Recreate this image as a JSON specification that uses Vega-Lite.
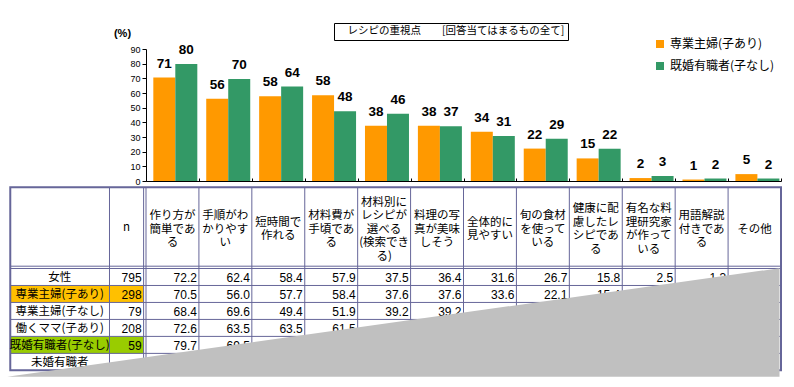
{
  "$schema": "https://vega.github.io/schema/vega-lite/v6.json",
  "padding": {"left": 7, "top": 22, "right": 0, "bottom": 0},
  "spacing": 0,
  "background": "white",
  "config": {"view": {"stroke": null}, "font": "Noto Sans CJK JP", "axis": {"grid": false}},
  "resolve": {"scale": {"x": "independent", "y": "independent"}},
  "datasets": {
    "bars": [
      {"item": "作り方が簡単である", "series": "専業主婦(子あり)", "value": 70.5},
      {"item": "作り方が簡単である", "series": "既婚有職者(子なし)", "value": 79.7},
      {"item": "手順がわかりやすい", "series": "専業主婦(子あり)", "value": 56.0},
      {"item": "手順がわかりやすい", "series": "既婚有職者(子なし)", "value": 69.5},
      {"item": "短時間で作れる", "series": "専業主婦(子あり)", "value": 57.7},
      {"item": "短時間で作れる", "series": "既婚有職者(子なし)", "value": 64.4},
      {"item": "材料費が手頃である", "series": "専業主婦(子あり)", "value": 58.4},
      {"item": "材料費が手頃である", "series": "既婚有職者(子なし)", "value": 47.5},
      {"item": "材料別にレシピが選べる(検索できる)", "series": "専業主婦(子あり)", "value": 37.6},
      {"item": "材料別にレシピが選べる(検索できる)", "series": "既婚有職者(子なし)", "value": 45.8},
      {"item": "料理の写真が美味しそう", "series": "専業主婦(子あり)", "value": 37.6},
      {"item": "料理の写真が美味しそう", "series": "既婚有職者(子なし)", "value": 37.3},
      {"item": "全体的に見やすい", "series": "専業主婦(子あり)", "value": 33.6},
      {"item": "全体的に見やすい", "series": "既婚有職者(子なし)", "value": 30.6},
      {"item": "旬の食材を使っている", "series": "専業主婦(子あり)", "value": 22.1},
      {"item": "旬の食材を使っている", "series": "既婚有職者(子なし)", "value": 28.8},
      {"item": "健康に配慮したレシピである", "series": "専業主婦(子あり)", "value": 15.4},
      {"item": "健康に配慮したレシピである", "series": "既婚有職者(子なし)", "value": 22.0},
      {"item": "有名な料理研究家が作っている", "series": "専業主婦(子あり)", "value": 2.0},
      {"item": "有名な料理研究家が作っている", "series": "既婚有職者(子なし)", "value": 3.4},
      {"item": "用語解説付きである", "series": "専業主婦(子あり)", "value": 1.0},
      {"item": "用語解説付きである", "series": "既婚有職者(子なし)", "value": 1.7},
      {"item": "その他", "series": "専業主婦(子あり)", "value": 4.7},
      {"item": "その他", "series": "既婚有職者(子なし)", "value": 1.7}
    ],
    "headers": [
      {"col": 1, "nl": 3, "label": "作り方が\n簡単であ\nる"},
      {"col": 2, "nl": 3, "label": "手順がわ\nかりやす\nい"},
      {"col": 3, "nl": 2, "label": "短時間で\n作れる"},
      {"col": 4, "nl": 3, "label": "材料費が\n手頃であ\nる"},
      {"col": 5, "nl": 5, "label": "材料別に\nレシピが\n選べる\n(検索でき\nる)"},
      {"col": 6, "nl": 3, "label": "料理の写\n真が美味\nしそう"},
      {"col": 7, "nl": 2, "label": "全体的に\n見やすい"},
      {"col": 8, "nl": 3, "label": "旬の食材\nを使って\nいる"},
      {"col": 9, "nl": 4, "label": "健康に配\n慮したレ\nシピであ\nる"},
      {"col": 10, "nl": 4, "label": "有名な料\n理研究家\nが作って\nいる"},
      {"col": 11, "nl": 3, "label": "用語解説\n付きであ\nる"},
      {"col": 12, "nl": 1, "label": "その他"}
    ],
    "rows": [
      {"R": 1, "label": "女性", "n": "795"},
      {"R": 2, "R0": 1, "label": "専業主婦(子あり)", "n": "298", "hl": "専業主婦(子あり)"},
      {"R": 3, "label": "専業主婦(子なし)", "n": "79"},
      {"R": 4, "label": "働くママ(子あり)", "n": "208"},
      {"R": 5, "R0": 4, "label": "既婚有職者(子なし)", "n": "59", "hl": "既婚有職者(子なし)"},
      {"R": 6, "label": "未婚有職者"}
    ],
    "cells": [
      {"R": 1, "col": 1, "v": "72.2"}, {"R": 1, "col": 2, "v": "62.4"}, {"R": 1, "col": 3, "v": "58.4"},
      {"R": 1, "col": 4, "v": "57.9"}, {"R": 1, "col": 5, "v": "37.5"}, {"R": 1, "col": 6, "v": "36.4"},
      {"R": 1, "col": 7, "v": "31.6"}, {"R": 1, "col": 8, "v": "26.7"}, {"R": 1, "col": 9, "v": "15.8"},
      {"R": 1, "col": 10, "v": "2.5"}, {"R": 1, "col": 11, "v": "1.3"},
      {"R": 2, "col": 1, "v": "70.5"}, {"R": 2, "col": 2, "v": "56.0"}, {"R": 2, "col": 3, "v": "57.7"},
      {"R": 2, "col": 4, "v": "58.4"}, {"R": 2, "col": 5, "v": "37.6"}, {"R": 2, "col": 6, "v": "37.6"},
      {"R": 2, "col": 7, "v": "33.6"}, {"R": 2, "col": 8, "v": "22.1"}, {"R": 2, "col": 9, "v": "15.4"},
      {"R": 3, "col": 1, "v": "68.4"}, {"R": 3, "col": 2, "v": "69.6"}, {"R": 3, "col": 3, "v": "49.4"},
      {"R": 3, "col": 4, "v": "51.9"}, {"R": 3, "col": 5, "v": "39.2"}, {"R": 3, "col": 6, "v": "39.2"},
      {"R": 4, "col": 1, "v": "72.6"}, {"R": 4, "col": 2, "v": "63.5"}, {"R": 4, "col": 3, "v": "63.5"},
      {"R": 4, "col": 4, "v": "61.5"},
      {"R": 5, "col": 1, "v": "79.7"}, {"R": 5, "col": 2, "v": "69.5"}
    ],
    "vlines": [{"x": -0.69}, {"x": -0.045}, {"x": 0}, {"x": 1}, {"x": 2}, {"x": 3}, {"x": 4}, {"x": 5}, {"x": 6}, {"x": 7}, {"x": 8}, {"x": 9}, {"x": 10}, {"x": 11}],
    "hlines": [{"y": -0.135}, {"y": 0}, {"y": 1}, {"y": 2}, {"y": 3}, {"y": 4}, {"y": 5}],
    "curl": [{"x": -2.622, "y": 6.38}, {"x": 11.972, "y": -0.018}]
  },
  "vconcat": [
    {
      "width": 635,
      "height": 132,
      "data": {"name": "bars"},
      "encoding": {
        "x": {
          "field": "item", "type": "nominal", "sort": null,
          "scale": {"paddingInner": 0, "paddingOuter": 0},
          "axis": {"title": null, "labels": false, "ticks": true, "tickBand": "extent", "tickSize": -3, "tickColor": "black", "domainColor": "black", "minExtent": 0, "maxExtent": 0}
        },
        "xOffset": {"field": "series", "type": "nominal", "sort": ["専業主婦(子あり)", "既婚有職者(子なし)"],
          "scale": {"paddingInner": 0, "paddingOuter": 0.2027, "align": 0.82}},
        "y": {
          "field": "value", "type": "quantitative",
          "scale": {"domain": [0, 90], "nice": false},
          "axis": {
            "title": "(%)", "titleAngle": 0, "titleX": -24, "titleY": -16, "titleAlign": "center", "titleBaseline": "middle",
            "titleFont": "Liberation Sans", "titleFontSize": 11, "titleFontWeight": "bold", "titleColor": "black",
            "values": [0, 10, 20, 30, 40, 50, 60, 70, 80, 90],
            "labelFont": "Liberation Sans", "labelFontSize": 9, "labelColor": "black", "labelPadding": 2,
            "tickColor": "black", "tickSize": 4, "domainColor": "black",
            "minExtent": 139, "maxExtent": 139
          }
        }
      },
      "layer": [
        {
          "mark": {"type": "bar"},
          "encoding": {
            "color": {
              "field": "series", "type": "nominal",
              "scale": {"domain": ["専業主婦(子あり)", "既婚有職者(子なし)"], "range": ["#FF9900", "#339966"]},
              "legend": {"title": null, "orient": "none", "legendX": 508, "legendY": -11, "padding": 0,
                "symbolType": "square", "symbolSize": 64, "symbolStrokeWidth": 0,
                "labelFont": "Noto Sans CJK JP", "labelFontSize": 12, "labelColor": "black", "labelOffset": 4, "rowPadding": 10, "labelLimit": 300}
            },
            "strokeDash": {
              "datum": "レシピの重視点　　[回答当てはまるもの全て]", "type": "nominal",
              "legend": {"title": null, "orient": "none", "legendX": 188, "legendY": -26, "padding": 3,
                "strokeColor": "black", "symbolSize": 0, "symbolOpacity": 0, "symbolStrokeWidth": 0,
                "labelOffset": 0, "labelFont": "Noto Sans CJK JP", "labelFontSize": 10.5, "labelColor": "black", "labelLimit": 400}
            }
          }
        },
        {
          "mark": {"type": "text", "baseline": "alphabetic", "dy": -10, "font": "Liberation Sans", "fontSize": 13.5, "fontWeight": "bold", "color": "black"},
          "encoding": {"text": {"field": "value", "type": "quantitative", "format": ".0f"}}
        }
      ]
    },
    {
      "width": 635,
      "height": 191,
      "layer": [
        {
          "data": {"name": "rows"},
          "transform": [{"filter": "isValid(datum.hl)"}],
          "mark": {"type": "rect"},
          "encoding": {
            "x": {"datum": -2.565, "type": "quantitative", "scale": {"domain": [0, 12], "nice": false, "zero": false}, "axis": null},
            "x2": {"datum": -0.045},
            "y": {"field": "R0", "type": "quantitative", "scale": {"domain": [-4.8, 6.45], "reverse": true, "nice": false, "zero": false}, "axis": null},
            "y2": {"field": "R"},
            "fill": {"field": "hl", "type": "nominal", "scale": {"domain": ["専業主婦(子あり)", "既婚有職者(子なし)"], "range": ["#FFC000", "#99CC00"]}, "legend": null}
          }
        },
        {
          "data": {"name": "vlines"},
          "mark": {"type": "rule", "stroke": "#666699", "strokeWidth": 1},
          "encoding": {
            "x": {"field": "x", "type": "quantitative"},
            "y": {"datum": -4.78, "type": "quantitative"},
            "y2": {"datum": 6.0}
          }
        },
        {
          "data": {"name": "hlines"},
          "mark": {"type": "rule", "stroke": "#666699", "strokeWidth": 1},
          "encoding": {
            "y": {"field": "y", "type": "quantitative"},
            "x": {"datum": -2.565, "type": "quantitative"},
            "x2": {"datum": 12.0}
          }
        },
        {
          "data": {"values": [{}]},
          "mark": {"type": "rect", "fill": null, "fillOpacity": 0, "stroke": "#666699", "strokeWidth": 2},
          "encoding": {
            "x": {"datum": -2.565, "type": "quantitative"},
            "x2": {"datum": 12.0},
            "y": {"datum": -4.78, "type": "quantitative"},
            "y2": {"datum": 6.0}
          }
        },
        {
          "data": {"name": "headers"},
          "transform": [{"filter": "datum.nl == 1"}],
          "mark": {"type": "text", "lineBreak": "\n", "align": "center", "baseline": "top", "dx": -26.46, "fontSize": 11.5, "lineHeight": 13.5, "color": "black"},
          "encoding": {
            "x": {"field": "col", "type": "quantitative"},
            "y": {"datum": -2.647, "type": "quantitative"},
            "text": {"field": "label", "type": "nominal"}
          }
        },
        {
          "data": {"name": "headers"},
          "transform": [{"filter": "datum.nl == 2"}],
          "mark": {"type": "text", "lineBreak": "\n", "align": "center", "baseline": "top", "dx": -26.46, "fontSize": 11.5, "lineHeight": 13.5, "color": "black"},
          "encoding": {
            "x": {"field": "col", "type": "quantitative"},
            "y": {"datum": -3.044, "type": "quantitative"},
            "text": {"field": "label", "type": "nominal"}
          }
        },
        {
          "data": {"name": "headers"},
          "transform": [{"filter": "datum.nl == 3"}],
          "mark": {"type": "text", "lineBreak": "\n", "align": "center", "baseline": "top", "dx": -26.46, "fontSize": 11.5, "lineHeight": 13.5, "color": "black"},
          "encoding": {
            "x": {"field": "col", "type": "quantitative"},
            "y": {"datum": -3.441, "type": "quantitative"},
            "text": {"field": "label", "type": "nominal"}
          }
        },
        {
          "data": {"name": "headers"},
          "transform": [{"filter": "datum.nl == 4"}],
          "mark": {"type": "text", "lineBreak": "\n", "align": "center", "baseline": "top", "dx": -26.46, "fontSize": 11.5, "lineHeight": 13.5, "color": "black"},
          "encoding": {
            "x": {"field": "col", "type": "quantitative"},
            "y": {"datum": -3.838, "type": "quantitative"},
            "text": {"field": "label", "type": "nominal"}
          }
        },
        {
          "data": {"name": "headers"},
          "transform": [{"filter": "datum.nl == 5"}],
          "mark": {"type": "text", "lineBreak": "\n", "align": "center", "baseline": "top", "dx": -26.46, "fontSize": 11.5, "lineHeight": 13.5, "color": "black"},
          "encoding": {
            "x": {"field": "col", "type": "quantitative"},
            "y": {"datum": -4.235, "type": "quantitative"},
            "text": {"field": "label", "type": "nominal"}
          }
        },
        {
          "data": {"values": [{}]},
          "mark": {"type": "text", "text": "n", "align": "center", "baseline": "middle", "fontSize": 11.5, "color": "black"},
          "encoding": {
            "x": {"datum": -0.3675, "type": "quantitative"},
            "y": {"datum": -2.37, "type": "quantitative"}
          }
        },
        {
          "data": {"name": "rows"},
          "mark": {"type": "text", "align": "center", "baseline": "alphabetic", "dy": -4.5, "fontSize": 11.5, "color": "black"},
          "encoding": {
            "x": {"datum": -1.63, "type": "quantitative"},
            "y": {"field": "R", "type": "quantitative"},
            "text": {"field": "label", "type": "nominal"}
          }
        },
        {
          "data": {"name": "rows"},
          "transform": [{"filter": "isValid(datum.n)"}],
          "mark": {"type": "text", "align": "right", "baseline": "alphabetic", "dy": -3.3, "dx": -2, "font": "Liberation Sans", "fontSize": 12, "color": "black"},
          "encoding": {
            "x": {"datum": -0.045, "type": "quantitative"},
            "y": {"field": "R", "type": "quantitative"},
            "text": {"field": "n", "type": "nominal"}
          }
        },
        {
          "data": {"name": "cells"},
          "mark": {"type": "text", "align": "right", "baseline": "alphabetic", "dy": -3.3, "dx": -2, "font": "Liberation Sans", "fontSize": 12, "color": "black"},
          "encoding": {
            "x": {"field": "col", "type": "quantitative"},
            "y": {"field": "R", "type": "quantitative"},
            "text": {"field": "v", "type": "nominal"}
          }
        },
        {
          "data": {"name": "curl"},
          "mark": {"type": "area", "fill": "#C0C0C0", "opacity": 1},
          "encoding": {
            "x": {"field": "x", "type": "quantitative"},
            "y": {"field": "y", "type": "quantitative"},
            "y2": {"datum": 6.38}
          }
        }
      ]
    }
  ]
}
